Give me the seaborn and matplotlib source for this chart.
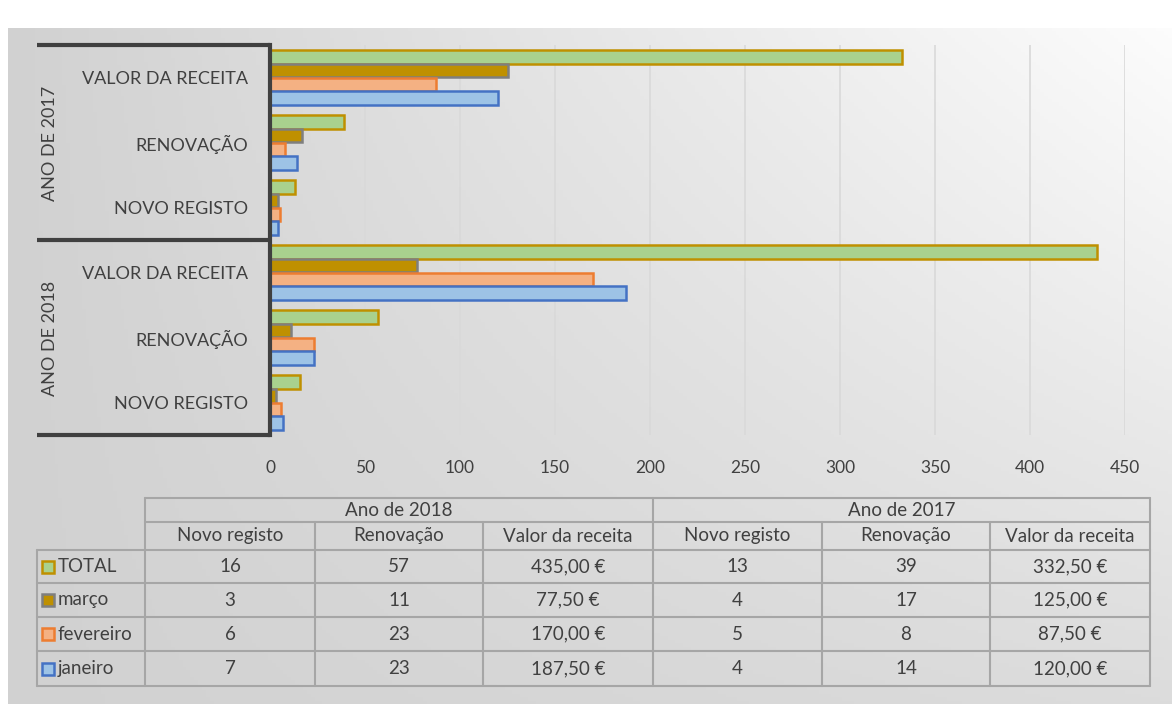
import numpy as np
import pandas as pd
import matplotlib
matplotlib.use("Agg")
import matplotlib.pyplot as plt
import seaborn as sns
from matplotlib.patches import Rectangle

series = ["TOTAL", "março", "fevereiro", "janeiro"]
measures = ["Novo registo", "Renovação", "Valor da receita"]
years = ["Ano de 2018", "Ano de 2017"]

novo_2018 = [16, 3, 6, 7]
renov_2018 = [57, 11, 23, 23]
receita_2018 = [435.0, 77.5, 170.0, 187.5]
novo_2017 = [13, 4, 5, 4]
renov_2017 = [39, 17, 8, 14]
receita_2017 = [332.5, 125.0, 87.5, 120.0]

fills = ["#a9d18e", "#bf9000", "#f4b183", "#9dc3e6"]
edges = ["#bf9000", "#7f7f7f", "#ed7d31", "#4472c4"]
txt = "#404040"

values = {
    ("Ano de 2018", "Novo registo"): novo_2018,
    ("Ano de 2018", "Renovação"): renov_2018,
    ("Ano de 2018", "Valor da receita"): receita_2018,
    ("Ano de 2017", "Novo registo"): novo_2017,
    ("Ano de 2017", "Renovação"): renov_2017,
    ("Ano de 2017", "Valor da receita"): receita_2017,
}

rows = []
for (yr, m), vals in values.items():
    for s, v in zip(series, vals):
        rows.append({"cat": yr + "|" + m, "serie": s, "valor": v})
df = pd.DataFrame(rows)

# top to bottom on the chart
cat_order = [y + "|" + m for y in ["Ano de 2017", "Ano de 2018"]
             for m in ["Valor da receita", "Renovação", "Novo registo"]]

sns.set_theme(style="white")
plt.rcParams["font.family"] = ["Liberation Sans Narrow", "Lato", "DejaVu Sans"]

W, H = 1172, 704
fig = plt.figure(figsize=(W / 100, H / 100), dpi=100)
fig.patch.set_facecolor("white")


def px(x0, y0, x1, y1):
    return [x0 / W, 1 - y1 / H, (x1 - x0) / W, (y1 - y0) / H]


# background gradient of the chart box
bg = fig.add_axes(px(8, 28, W, H), zorder=-10)
gx, gy = np.meshgrid(np.linspace(0, 1, 300), np.linspace(0, 1, 200))
light = 0.82 + 0.17 * gx * (1 - 0.75 * gy)
bg.imshow(np.dstack([light] * 3), aspect="auto", extent=(0, 1, 1, 0))
bg.set_axis_off()

# main bar chart
ax = fig.add_axes(px(270, 45, 1125, 435))
ax.patch.set_alpha(0)
sns.barplot(data=df, y="cat", x="valor", hue="serie", order=cat_order,
            hue_order=series, palette=fills, orient="h", width=0.86,
            saturation=1, legend=False, ax=ax)
for cont, ec in zip(ax.containers, edges):
    for bar in cont:
        bar.set_edgecolor(ec)
        bar.set_linewidth(1.8)

ax.set_xlim(0, 450)
ax.set_ylim(5.5, -0.5)
ax.set_xticks(range(0, 451, 50))
ax.set_yticks(range(len(cat_order)))
ax.set_yticklabels([c.split("|")[1].upper() for c in cat_order])
ax.tick_params(axis="y", length=0, pad=16, labelsize=13, labelcolor=txt)
ax.tick_params(axis="x", length=0, pad=18, labelsize=12.5, labelcolor=txt)
ax.set_xlabel("")
ax.set_ylabel("")
ax.grid(axis="x", color="#d9d9d9", lw=1.2)
ax.set_axisbelow(True)
for side in ["top", "right", "bottom"]:
    ax.spines[side].set_visible(False)
ax.spines["left"].set_color(txt)
ax.spines["left"].set_linewidth(3)

# overlay in pixel coords for the brackets, year labels and table
ov = fig.add_axes([0, 0, 1, 1], zorder=5)
ov.set_xlim(0, W)
ov.set_ylim(H, 0)
ov.set_axis_off()
ov.patch.set_alpha(0)

for yb in [45, 240, 435]:
    ov.plot([37, 270], [yb, yb], color=txt, lw=3, solid_capstyle="butt")
ov.text(50, 143, "ANO DE 2017", rotation=90, ha="center", va="center",
        fontsize=13, color=txt)
ov.text(50, 338, "ANO DE 2018", rotation=90, ha="center", va="center",
        fontsize=13, color=txt)

# data table
xe = [37, 145, 315, 483, 653, 822, 990, 1150]
ye = [498, 522, 550, 583, 617, 651, 686]
gc = "#a6a6a6"
ov.plot([xe[0], xe[0]], [ye[2], ye[-1]], color=gc, lw=1.5)
for i in [1, 4, 7]:
    ov.plot([xe[i], xe[i]], [ye[0], ye[-1]], color=gc, lw=1.5)
for i in [2, 3, 5, 6]:
    ov.plot([xe[i], xe[i]], [ye[1], ye[-1]], color=gc, lw=1.5)
for j in [0, 1]:
    ov.plot([xe[1], xe[-1]], [ye[j], ye[j]], color=gc, lw=1.5)
for j in range(2, len(ye)):
    ov.plot([xe[0], xe[-1]], [ye[j], ye[j]], color=gc, lw=1.5)

fs = 13.5
ov.text((xe[1] + xe[4]) / 2, (ye[0] + ye[1]) / 2, years[0], ha="center",
        va="center", fontsize=fs, color=txt)
ov.text((xe[4] + xe[7]) / 2, (ye[0] + ye[1]) / 2, years[1], ha="center",
        va="center", fontsize=fs, color=txt)
for k in range(6):
    ov.text((xe[k + 1] + xe[k + 2]) / 2, (ye[1] + ye[2]) / 2,
            measures[k % 3], ha="center", va="center", fontsize=fs, color=txt)


def fmt(m, v):
    if m == "Valor da receita":
        return f"{v:.2f}".replace(".", ",") + " €"
    return str(int(v))


for r, s in enumerate(series):
    yc = (ye[r + 2] + ye[r + 3]) / 2
    ov.add_patch(Rectangle((42, yc - 6), 12, 12, facecolor=fills[r],
                           edgecolor=edges[r], lw=1.8))
    ov.text(58, yc, s, ha="left", va="center", fontsize=fs, color=txt)
    for k in range(6):
        yr = years[k // 3]
        m = measures[k % 3]
        ov.text((xe[k + 1] + xe[k + 2]) / 2, yc, fmt(m, values[(yr, m)][r]),
                ha="center", va="center", fontsize=fs, color=txt)

fig.savefig("out.png", dpi=100)
